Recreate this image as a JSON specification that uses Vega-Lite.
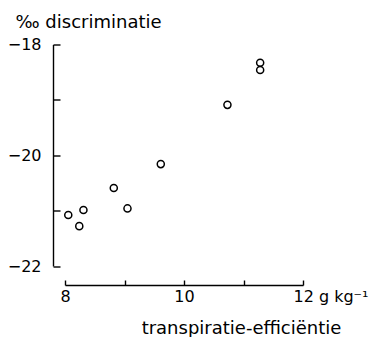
{
  "$schema": "https://vega.github.io/schema/vega-lite/v6.json",
  "autosize": {"type": "none"},
  "width": 238,
  "height": 221.5,
  "padding": {"left": 65, "top": 44.5, "right": 69, "bottom": 71},
  "background": "white",
  "config": {
    "view": {"stroke": null},
    "axis": {"domainColor": "black", "tickColor": "black", "labelColor": "black", "titleColor": "black", "domainWidth": 1.4, "tickWidth": 1.4, "grid": false, "labelFont": "DejaVu Sans", "titleFont": "DejaVu Sans", "labelFontSize": 16, "titleFontSize": 18, "titleFontWeight": "normal"}
  },
  "data": {"values": [
    {"te": 8.055, "d": -21.08},
    {"te": 8.24, "d": -21.28},
    {"te": 8.31, "d": -20.99},
    {"te": 8.82, "d": -20.59},
    {"te": 9.05, "d": -20.96},
    {"te": 9.61, "d": -20.16},
    {"te": 10.73, "d": -19.09},
    {"te": 11.28, "d": -18.33},
    {"te": 11.28, "d": -18.46}
  ]},
  "mark": {"type": "point", "shape": "circle", "filled": false, "stroke": "black", "strokeWidth": 1.5, "size": 50, "opacity": 1},
  "encoding": {
    "x": {"field": "te", "type": "quantitative", "scale": {"domain": [8, 12], "nice": false, "zero": false},
      "axis": {"title": "transpiratie-efficiëntie", "offset": 19, "values": [8, 9, 10, 11, 12], "tickSize": -5,
        "labelExpr": "datum.value == 12 ? '12  g kg⁻¹' : (datum.value % 2 == 0 ? datum.label : '')",
        "labelAlign": {"condition": {"test": "datum.value == 12", "value": "left"}, "value": "center"},
        "labelOffset": {"condition": {"test": "datum.value == 12", "value": -10}, "value": 0},
        "labelPadding": 8, "labelFlush": false, "labelOverlap": false, "labelBaseline": "top",
        "titleX": 176, "titleY": 48, "titleAlign": "center", "titleBaseline": "alphabetic"}},
    "y": {"field": "d", "type": "quantitative", "scale": {"domain": [-22, -18], "nice": false, "zero": false},
      "axis": {"title": "‰ discriminatie", "offset": 12, "values": [-22, -21, -20, -19, -18], "tickSize": -7,
        "labelExpr": "datum.value % 2 == 0 ? datum.label : ''", "labelPadding": 19, "labelFlush": false, "labelOverlap": false, "labelBaseline": "middle",
        "titleAngle": 0, "titleAlign": "left", "titleBaseline": "alphabetic", "titleX": -38, "titleY": -17.5}}
  }
}
